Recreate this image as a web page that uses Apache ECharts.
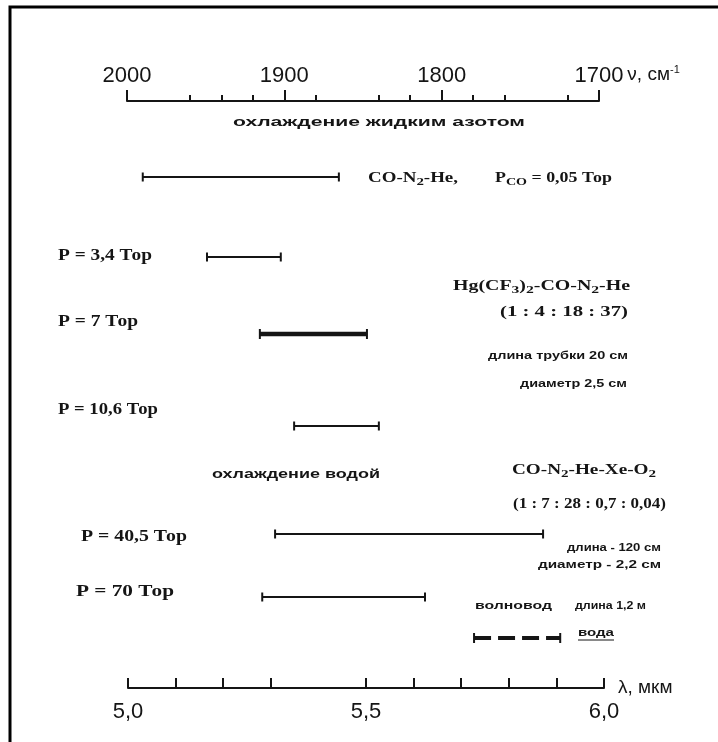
<!DOCTYPE html>
<html><head><meta charset="utf-8">
<script src="https://cdn.jsdelivr.net/npm/echarts@6/dist/echarts.min.js"></script>
<style>html,body{margin:0;padding:0;background:#fff}#c{width:718px;height:742px}</style>
</head><body><div id="c"></div><script>
// ---- data ----
const bandNames = ['CO-N2-He', 'P = 3,4 Тор', 'P = 7 Тор', 'P = 10,6 Тор', 'P = 40,5 Тор', 'P = 70 Тор', 'вода'];
const bandStart = [5.031, 5.166, 5.277, 5.349, 5.309, 5.282, 5.727];
const bandEnd   = [5.443, 5.321, 5.502, 5.527, 5.872, 5.624, 5.908];
const lambdaTicks  = [5.0, 5.1, 5.2, 5.3, 5.5, 5.6, 5.7, 5.8, 5.9, 6.0];
const lambdaLabels = [5.0, 5.5, 6.0];
const nuMajor = [2000, 1900, 1800, 1700];
const nuMinor = [2000, 1960, 1940, 1920, 1900, 1880, 1840, 1820, 1800, 1780, 1760, 1720, 1700];

// ---- layout / style (not data) ----
const rowY   = [76, 156, 233, 325, 433, 496, 537];
const lineW  = [2, 2, 4.5, 2, 2, 2, 4];
const dashed = [0, 0, 0, 0, 0, 0, 1];
const INK = '#151515';
const SERIF = '"Liberation Serif","DejaVu Serif",serif';
const SANS = '"Liberation Sans",Arial,sans-serif';

// text annotations: x0..x1 target extent, y = vertical centre
const notes = [
  {t: 'охлаждение жидким азотом', x0: 233, x1: 525, y: 122, s: 13, b: true, f: SANS},
  {t: 'CO-N{sub|2}-He,', x0: 368, x1: 458, y: 178, s: 14, b: true, f: SERIF},
  {t: 'P{sub|CO} = 0,05 Тор', x0: 495, x1: 612, y: 178, s: 14, b: true, f: SERIF},
  {t: 'P = 3,4 Тор', x0: 58, x1: 152, y: 256, s: 16, b: true, f: SERIF},
  {t: 'Hg(CF{sub|3}){sub|2}-CO-N{sub|2}-He', x0: 453, x1: 630, y: 286, s: 14, b: true, f: SERIF},
  {t: '(1 : 4 : 18 : 37)', x0: 500, x1: 628, y: 312, s: 14, b: true, f: SERIF},
  {t: 'P = 7 Тор', x0: 58, x1: 138, y: 322, s: 16, b: true, f: SERIF},
  {t: 'длина трубки 20 см', x0: 488, x1: 628, y: 356, s: 11, b: true, f: SANS},
  {t: 'диаметр 2,5 см', x0: 520, x1: 627, y: 384, s: 11, b: true, f: SANS},
  {t: 'P = 10,6 Тор', x0: 58, x1: 158, y: 410, s: 16, b: true, f: SERIF},
  {t: 'охлаждение водой', x0: 212, x1: 380, y: 474, s: 13, b: true, f: SANS},
  {t: 'CO-N{sub|2}-He-Xe-O{sub|2}', x0: 512, x1: 656, y: 470, s: 14, b: true, f: SERIF},
  {t: '(1 : 7 : 28 : 0,7 : 0,04)', x0: 513, x1: 666, y: 504, s: 14, b: true, f: SERIF},
  {t: 'P = 40,5 Тор', x0: 81, x1: 187, y: 537, s: 16, b: true, f: SERIF},
  {t: 'длина - 120 см', x0: 567, x1: 661, y: 548, s: 11, b: true, f: SANS},
  {t: 'диаметр - 2,2 см', x0: 538, x1: 661, y: 565, s: 11, b: true, f: SANS},
  {t: 'P = 70 Тор', x0: 76, x1: 174, y: 592, s: 16, b: true, f: SERIF},
  {t: 'волновод', x0: 475, x1: 552, y: 606, s: 11, b: true, f: SANS},
  {t: 'длина 1,2 м', x0: 575, x1: 646, y: 606, s: 11, b: true, f: SANS},
  {t: 'вода', x0: 578, x1: 614, y: 633, s: 11, b: true, f: SANS, u: true}
];

const ctx = document.createElement('canvas').getContext('2d');
function measure(n) {
  let w = 0;
  n.t.split(/(\{\w+\|[^}]*\})/).forEach(p => {
    if (!p) return;
    const m = p.match(/^\{(\w+)\|([^}]*)\}$/);
    let txt = p, size = n.s;
    if (m) { txt = m[2]; size = Math.round(n.s * 0.75); }
    ctx.font = (n.b ? 'bold ' : '') + size + 'px ' + n.f;
    w += ctx.measureText(txt).width;
  });
  return w;
}

const chart = echarts.init(document.getElementById('c'), null, {renderer: 'canvas'});

const graphics = [
  {type: 'polyline', shape: {points: [[10, 742], [10, 7], [718, 7]]}, style: {stroke: '#000', lineWidth: 3, fill: null}, silent: true}
];
notes.forEach(n => {
  const sx = (n.x1 - n.x0) / measure(n);
  graphics.push({
    type: 'text', x: n.x0, y: n.y, scaleX: sx, scaleY: 1, originX: 0, originY: 0,
    style: {
      text: n.t, fill: INK, align: 'left', verticalAlign: 'middle',
      font: (n.b ? 'bold ' : '') + n.s + 'px ' + n.f,
      rich: {
        sub: {fontSize: Math.round(n.s * 0.75), fontFamily: n.f, fontWeight: n.b ? 'bold' : 'normal', fill: INK,
          padding: [Math.round(n.s * 0.55), 0, 0, 0], verticalAlign: 'bottom'}
      }
    }
  });
  if (n.u) {
    graphics.push({type: 'line', shape: {x1: n.x0, y1: n.y + 7, x2: n.x1, y2: n.y + 7}, style: {stroke: INK, lineWidth: 1.2}});
  }
});

const option = {
  animation: false,
  backgroundColor: '#fff',
  grid: [
    {left: 128, width: 476, top: 101, height: 587},
    {left: 127, width: 472, top: 101, height: 1}
  ],
  xAxis: [
    {
      gridIndex: 0, type: 'value', min: 5, max: 6, position: 'bottom',
      name: 'λ, мкм', nameLocation: 'end', nameGap: 14,
      nameTextStyle: {fontFamily: SANS, fontSize: 19, color: INK, verticalAlign: 'middle', padding: [0, 0, 8, 0]},
      axisLine: {show: true, onZero: false, lineStyle: {color: INK, width: 2}},
      axisTick: {show: true, inside: true, length: 10, lineStyle: {color: INK, width: 2}, customValues: lambdaTicks},
      axisLabel: {show: true, margin: 13, fontFamily: SANS, fontSize: 22, color: INK, customValues: lambdaLabels,
        formatter: v => v.toFixed(1).replace('.', ',')},
      splitLine: {show: false}
    },
    {
      gridIndex: 1, type: 'value', min: 1700, max: 2000, inverse: true, position: 'top',
      axisLine: {show: true, onZero: false, lineStyle: {color: INK, width: 2}},
      axisTick: {show: true, inside: false, length: 6, lineStyle: {color: INK, width: 2}, customValues: nuMinor},
      axisLabel: {show: false},
      splitLine: {show: false}
    },
    {
      gridIndex: 1, type: 'value', min: 1700, max: 2000, inverse: true, position: 'top',
      name: 'ν, см{sup|-1}', nameLocation: 'start', nameGap: 28,
      nameTextStyle: {fontFamily: SANS, fontSize: 19, color: INK, verticalAlign: 'middle', padding: [0, 0, 52, 0],
        rich: {sup: {fontSize: 11, fontFamily: SANS, color: INK, verticalAlign: 'top', padding: [0, 0, 10, 0]}}},
      axisLine: {show: false, onZero: false},
      axisTick: {show: true, inside: false, length: 11, lineStyle: {color: INK, width: 2}, customValues: nuMajor},
      axisLabel: {show: true, margin: 14, fontFamily: SANS, fontSize: 22, color: INK, customValues: nuMajor,
        formatter: v => String(v)},
      splitLine: {show: false}
    }
  ],
  yAxis: [
    {gridIndex: 0, type: 'value', min: 0, max: 587, inverse: true, show: false},
    {gridIndex: 1, type: 'value', min: 0, max: 1, show: false}
  ],
  series: [{
    type: 'custom', xAxisIndex: 0, yAxisIndex: 0, clip: false,
    data: bandStart.map((s, i) => ({name: bandNames[i], value: [s, bandEnd[i], rowY[i]]})),
    renderItem: (params, api) => {
      const i = params.dataIndex;
      const p0 = api.coord([api.value(0), api.value(2)]);
      const p1 = api.coord([api.value(1), api.value(2)]);
      const w = lineW[i];
      const cap = w > 3 ? 5 : 4.5;
      return {
        type: 'group',
        children: [
          {type: 'line', shape: {x1: p0[0], y1: p0[1], x2: p1[0], y2: p1[1]},
            style: {stroke: INK, lineWidth: w, lineDash: dashed[i] ? [17, 7] : null}},
          {type: 'line', shape: {x1: p0[0], y1: p0[1] - cap, x2: p0[0], y2: p0[1] + cap}, style: {stroke: INK, lineWidth: 2}},
          {type: 'line', shape: {x1: p1[0], y1: p1[1] - cap, x2: p1[0], y2: p1[1] + cap}, style: {stroke: INK, lineWidth: 2}}
        ]
      };
    }
  }],
  graphic: graphics
};
chart.setOption(option);
</script></body></html>
